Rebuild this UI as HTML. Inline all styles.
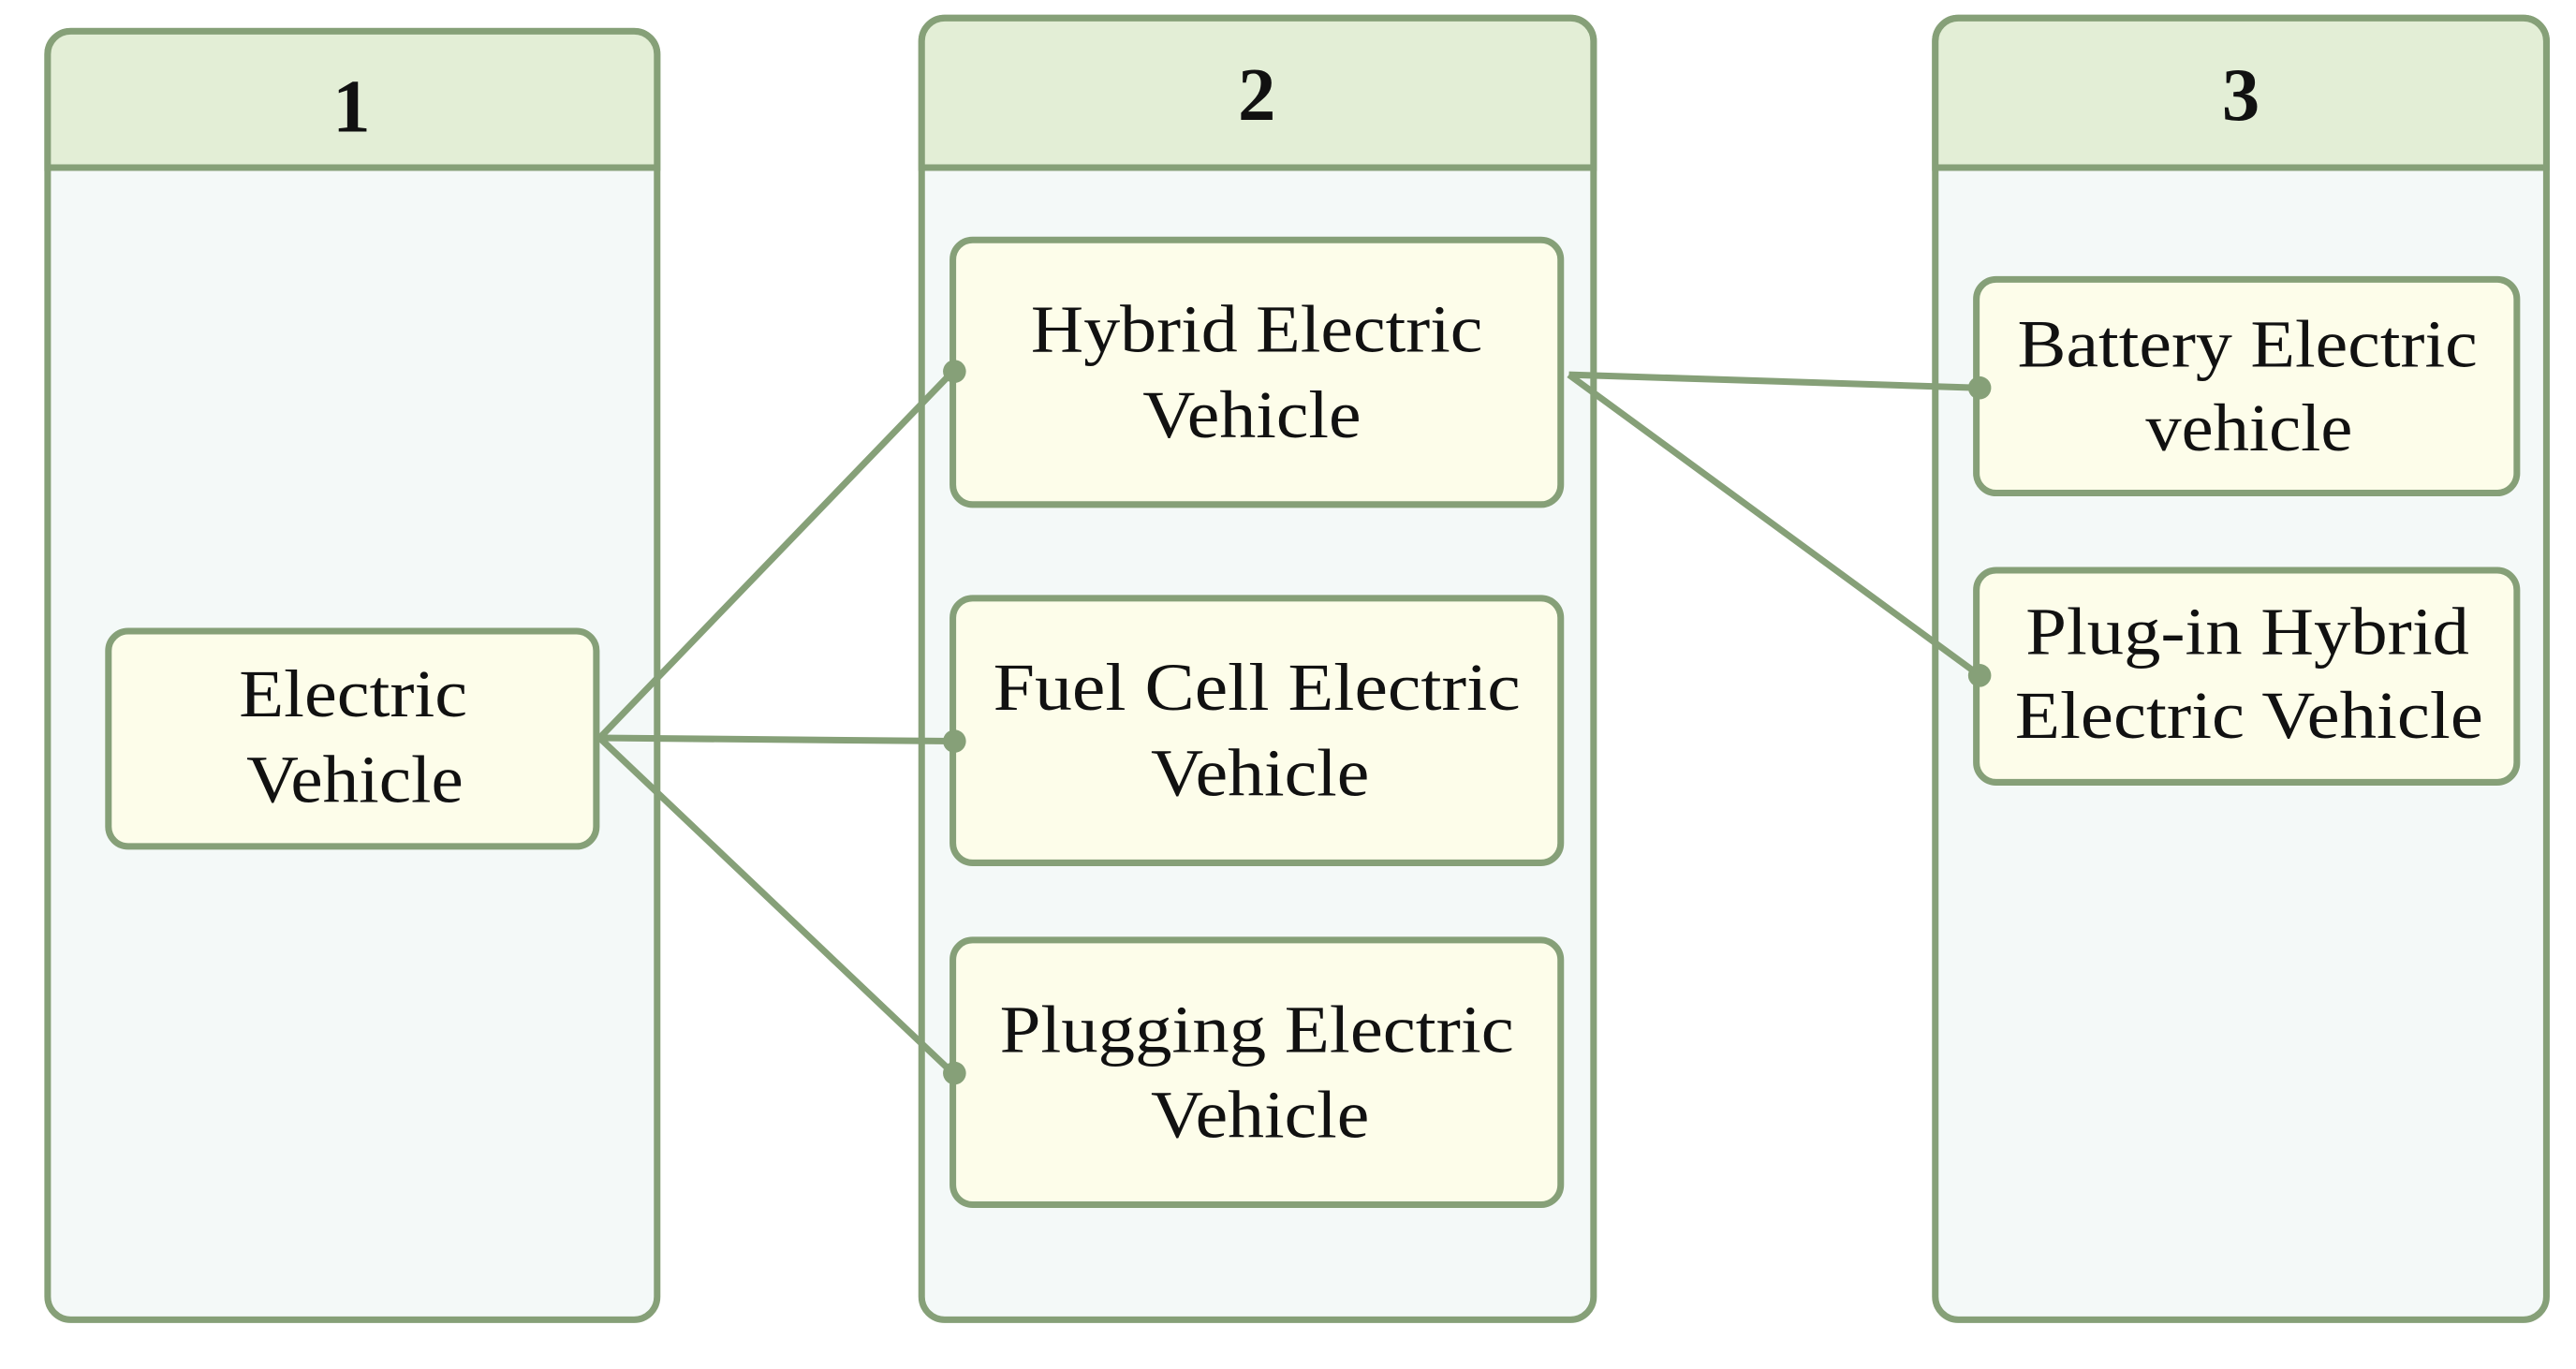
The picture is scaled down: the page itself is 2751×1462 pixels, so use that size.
<!DOCTYPE html>
<html><head><meta charset="utf-8"><style>
html,body{margin:0;padding:0;background:#fff;}
svg{display:block;}
text{font-family:"Liberation Serif",serif;fill:#111;text-anchor:middle;}
</style></head><body>
<svg width="2751" height="1462" viewBox="0 0 1568 833" preserveAspectRatio="none">
<g stroke="#86a078" stroke-width="4">
<rect x="29" y="19" width="371" height="784" rx="14" fill="#f4f9f8"/>
<path d="M29 102 V33 a14 14 0 0 1 14 -14 H386 a14 14 0 0 1 14 14 V102 Z" fill="#e3eed6"/>
<rect x="561" y="11" width="409" height="792" rx="14" fill="#f4f9f8"/>
<path d="M561 102 V25 a14 14 0 0 1 14 -14 H956 a14 14 0 0 1 14 14 V102 Z" fill="#e3eed6"/>
<rect x="1178" y="11" width="372" height="792" rx="14" fill="#f4f9f8"/>
<path d="M1178 102 V25 a14 14 0 0 1 14 -14 H1536 a14 14 0 0 1 14 14 V102 Z" fill="#e3eed6"/>
<rect x="66" y="384" width="297" height="131" rx="12" fill="#fdfdea"/>
<rect x="580" y="146" width="370" height="161" rx="12" fill="#fdfdea"/>
<rect x="580" y="364" width="370" height="161" rx="12" fill="#fdfdea"/>
<rect x="580" y="572" width="370" height="161" rx="12" fill="#fdfdea"/>
<rect x="1203" y="170" width="329" height="130" rx="12" fill="#fdfdea"/>
<rect x="1203" y="347" width="329" height="129" rx="12" fill="#fdfdea"/>
<g fill="none">
<line x1="365" y1="449" x2="580" y2="226"/>
<line x1="365" y1="449" x2="580" y2="451"/>
<line x1="365" y1="449" x2="580" y2="653"/>
<line x1="955" y1="228" x2="1205" y2="236"/>
<line x1="955" y1="228" x2="1205" y2="411"/>
</g>
</g>
<g fill="#86a078">
<circle cx="581" cy="226" r="7"/><circle cx="581" cy="451" r="7"/><circle cx="581" cy="653" r="7"/>
<circle cx="1205" cy="236" r="7"/><circle cx="1205" cy="411" r="7"/>
</g>
<g font-weight="bold" font-size="46">
<text x="214" y="80">1</text><text x="765" y="73">2</text><text x="1364" y="73">3</text>
</g>
<g font-size="41" lengthAdjust="spacingAndGlyphs">
<text x="215" y="436" textLength="139" lengthAdjust="spacingAndGlyphs">Electric</text><text x="216" y="488" textLength="132" lengthAdjust="spacingAndGlyphs">Vehicle</text>
<text x="765" y="214" textLength="275" lengthAdjust="spacingAndGlyphs">Hybrid Electric</text><text x="762" y="266" textLength="133" lengthAdjust="spacingAndGlyphs">Vehicle</text>
<text x="765" y="432" textLength="321" lengthAdjust="spacingAndGlyphs">Fuel Cell Electric</text><text x="767" y="484" textLength="133" lengthAdjust="spacingAndGlyphs">Vehicle</text>
<text x="765" y="640" textLength="313" lengthAdjust="spacingAndGlyphs">Plugging Electric</text><text x="767" y="692" textLength="133" lengthAdjust="spacingAndGlyphs">Vehicle</text>
<text x="1368" y="223" textLength="280" lengthAdjust="spacingAndGlyphs">Battery Electric</text><text x="1369" y="274" textLength="126" lengthAdjust="spacingAndGlyphs">vehicle</text>
<text x="1368" y="398" textLength="270" lengthAdjust="spacingAndGlyphs">Plug-in Hybrid</text><text x="1369" y="449" textLength="285" lengthAdjust="spacingAndGlyphs">Electric Vehicle</text>
</g>
</svg>
</body></html>
